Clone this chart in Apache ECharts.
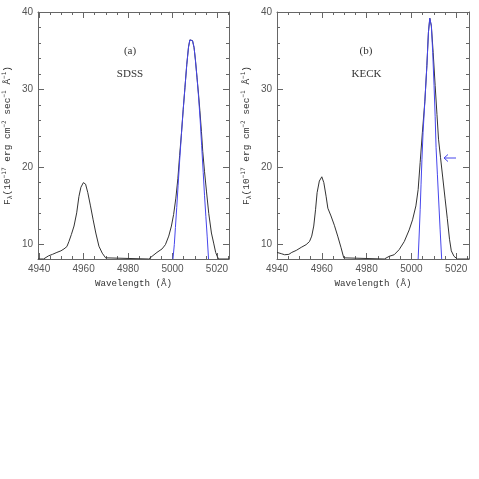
<!DOCTYPE html>
<html>
<head>
<meta charset="utf-8">
<script src="https://cdn.jsdelivr.net/npm/echarts@6/dist/echarts.min.js"></script>
<style>
html,body{margin:0;padding:0;background:#fff;}
#chart{width:479px;height:479px;}
</style>
</head>
<body>
<div id="chart"></div>
<script>
// ---- Data (wavelength in Å, flux in 1e-17 erg/cm2/s/Å) ----
const sdssWave = [4939.5,4942.0,4944.2,4946.0,4948.0,4949.8,4951.2,4952.5,4953.4,4954.5,4955.7,4956.9,4957.9,4958.8,4959.9,4960.9,4961.9,4963.1,4964.3,4965.5,4966.9,4968.4,4969.9,4970.6,
  4989.3,4990.8,4993.0,4995.3,4996.8,4998.3,4999.5,5000.5,5001.5,5002.4,5003.2,5004.0,5004.8,5005.6,5006.4,5007.2,5007.8,5008.3,5009.0,5009.7,5010.3,5011.0,5011.7,5012.3,5013.0,5013.6,5014.4,5015.3,5016.3,5017.5,5018.5,5019.4,5020.1,5020.7,5025.4];
const sdssFlux = [8.15,8.15,8.55,8.75,9.0,9.2,9.45,9.75,10.4,11.3,12.4,14.1,16.2,17.4,18.0,17.8,16.7,15.0,13.2,11.5,9.8,8.9,8.3,8.15,
  8.15,8.5,9.0,9.45,10.0,11.1,12.4,13.9,16.0,18.5,21.5,24.3,27.4,30.3,33.2,35.5,36.4,36.6,36.3,35.4,33.8,31.6,29.4,27.3,24.6,22.0,19.4,16.8,14.0,11.5,10.2,9.0,8.5,8.15,8.15];
const sdssFitWave = [5000.2,5000.8,5001.3,5001.9,5002.5,5003.2,5004.0,5004.8,5005.6,5006.4,5007.2,5007.8,5008.3,5009.0,5009.7,5010.3,5011.0,5011.7,5012.4,5013.1,5013.8,5014.4,5015.0,5015.6,5016.2];
const sdssFitFlux = [8.15,10.0,12.2,14.8,17.6,20.8,24.2,27.4,30.3,33.2,35.5,36.4,36.6,36.3,35.4,33.8,31.6,29.1,26.2,22.8,19.3,16.3,13.6,11.0,8.15];

const keckWave = [4940.0,4941.9,4943.4,4945.3,4946.6,4948.6,4950.8,4953.0,4954.5,4955.5,4956.4,4957.2,4957.9,4958.9,4960.0,4960.9,4961.9,4962.7,4964.1,4965.6,4967.1,4968.6,4969.8,4970.4,
  4987.9,4990.1,4992.3,4994.5,4996.8,4999.0,5000.5,5002.0,5003.0,5003.9,5004.9,5006.0,5006.9,5007.6,5008.2,5008.9,5009.7,5010.6,5011.4,5012.1,5013.0,5014.0,5015.0,5016.0,5017.0,5017.8,5019.0,5020.5,5025.7];
const keckFlux = [9.0,8.84,8.7,8.75,9.0,9.26,9.65,10.0,10.4,11.1,12.4,14.5,16.7,18.2,18.75,18.0,16.25,14.7,13.7,12.5,11.1,9.6,8.3,8.15,
  8.15,8.5,8.7,9.35,10.4,11.9,13.2,15.0,17.1,20.6,24.5,28.5,33.1,37.4,39.2,38.2,34.8,30.5,26.8,23.6,21.2,18.6,16.0,13.4,10.7,9.2,8.5,8.15,8.15];
const keckFitWave = [5003.0,5003.5,5003.9,5004.3,5004.7,5005.2,5006.0,5006.9,5007.6,5008.2,5008.9,5009.5,5010.1,5010.6,5011.0,5011.6,5012.2,5012.8,5013.5];
const keckFitFlux = [8.15,11.5,14.5,17.8,21.0,24.5,28.5,33.1,37.4,39.2,38.2,34.8,30.5,26.5,22.5,19.0,15.5,12.0,8.15];

const xMajorTicks = [4940,4960,4980,5000,5020];
const xMinorTicks = [4945,4950,4955,4965,4970,4975,4985,4990,4995,5005,5010,5015,5025];
const yMajorTicks = [10,20,30,40];
const yMinorTicks = [10,12,14,16,18,22,24,26,28,32,34,36,38];
const panelLabels = ['(a)','(b)'];
const panelNames = ['SDSS','KECK'];

const yMin = 8.15, yMax = 40;
const frame = '#666';
const labelColor = '#555';

function pairs(xs, ys){ return xs.map((x,i)=>[x, ys[i]]); }
const plain = v => String(Math.round(v));

function xAxesFor(g, min, max){
  const base = {type:'value', gridIndex:g, min:min, max:max, splitLine:{show:false}, axisLine:{onZero:false, show:false, lineStyle:{color:frame,width:1}}};
  const tick = (vals,len)=>({show:true, inside:true, length:len, customValues:vals, lineStyle:{color:frame,width:1}});
  return [
    Object.assign({}, base, {position:'bottom', axisLine:{show:true,onZero:false,lineStyle:{color:frame,width:1}},
      axisTick:tick(xMajorTicks,6),
      axisLabel:{show:true, customValues:xMajorTicks, formatter:plain, margin:5, color:labelColor, fontSize:10, fontFamily:'Liberation Sans', showMinLabel:true, showMaxLabel:true},
      name:'Wavelength (Å)', nameLocation:'middle', nameGap:19,
      nameTextStyle:{fontFamily:'Liberation Mono', fontSize:9.2, color:'#333', verticalAlign:'top'}}),
    Object.assign({}, base, {position:'bottom', axisTick:tick(xMinorTicks,3), axisLabel:{show:false}}),
    Object.assign({}, base, {position:'top', axisLine:{show:true,onZero:false,lineStyle:{color:frame,width:1}}, axisTick:tick(xMajorTicks,6), axisLabel:{show:false}}),
    Object.assign({}, base, {position:'top', axisTick:tick(xMinorTicks,3), axisLabel:{show:false}})
  ];
}
function yAxesFor(g){
  const base = {type:'value', gridIndex:g, min:yMin, max:yMax, splitLine:{show:false}, axisLine:{onZero:false, show:false, lineStyle:{color:frame,width:1}}};
  const tick = (vals,len)=>({show:true, inside:true, length:len, customValues:vals, lineStyle:{color:frame,width:1}});
  return [
    Object.assign({}, base, {position:'left', axisLine:{show:true,onZero:false,lineStyle:{color:frame,width:1}},
      axisTick:tick(yMajorTicks,6),
      axisLabel:{show:true, customValues:yMajorTicks, formatter:plain, margin:5, color:labelColor, fontSize:10, fontFamily:'Liberation Sans'},
      name:'{b|F}{sub|λ}{b|(10}{sup|−17}{b| erg cm}{sup|−2}{b| sec}{sup|−1}{b| Å}{sup|−1}{b|)}',
      nameLocation:'middle', nameGap:24,
      nameTextStyle:{color:'#333', fontFamily:'Liberation Mono', fontSize:9.5,
        rich:{
          b:{fontFamily:'Liberation Mono', fontSize:9.5, color:'#333', lineHeight:13, verticalAlign:'middle'},
          sub:{fontFamily:'Liberation Mono', fontSize:6.5, color:'#333', lineHeight:13, verticalAlign:'bottom'},
          sup:{fontFamily:'DejaVu Sans Mono', fontSize:6, color:'#333', lineHeight:13, verticalAlign:'top'}
        }}}),
    Object.assign({}, base, {position:'left', axisTick:tick(yMinorTicks,3), axisLabel:{show:false}}),
    Object.assign({}, base, {position:'right', axisLine:{show:true,onZero:false,lineStyle:{color:frame,width:1}}, axisTick:tick(yMajorTicks,6), axisLabel:{show:false}}),
    Object.assign({}, base, {position:'right', axisTick:tick(yMinorTicks,3), axisLabel:{show:false}})
  ];
}

const grids = [
  {left:37, top:12, width:192, height:247},
  {left:277, top:12, width:192, height:247}
];

const chart = echarts.init(document.getElementById('chart'), null, {renderer:'canvas'});

function lineSeries(name, data, axisIdx, color, z){
  return {name:name, type:'line', xAxisIndex:axisIdx, yAxisIndex:axisIdx, data:data,
    showSymbol:false, symbol:'none', smooth:false, z:z, animation:false,
    lineStyle:{color:color, width:1}};
}

const blue = '#4646ec';
const black = '#333';

const option = {
  animation:false,
  backgroundColor:'#fff',
  grid: grids,
  xAxis: [].concat(xAxesFor(0, 4939.5, 5025.4), xAxesFor(1, 4940, 5025.7)),
  yAxis: [].concat(yAxesFor(0), yAxesFor(1)),
  series: [
    lineSeries('SDSS spectrum', pairs(sdssWave, sdssFlux), 0, black, 2),
    lineSeries('SDSS fit', pairs(sdssFitWave, sdssFitFlux), 0, blue, 3),
    lineSeries('KECK spectrum', pairs(keckWave, keckFlux), 4, black, 2),
    lineSeries('KECK fit', pairs(keckFitWave, keckFitFlux), 4, blue, 3)
  ],
  graphic: [
    {type:'text', x:130, y:51, style:{text:panelLabels[0], textAlign:'center', textVerticalAlign:'middle', font:'11px "Liberation Serif"', fill:'#333'}},
    {type:'text', x:130, y:74.5, style:{text:panelNames[0], textAlign:'center', textVerticalAlign:'middle', font:'11px "Liberation Serif"', fill:'#333'}},
    {type:'text', x:366, y:51, style:{text:panelLabels[1], textAlign:'center', textVerticalAlign:'middle', font:'11px "Liberation Serif"', fill:'#333'}},
    {type:'text', x:366.5, y:74.5, style:{text:panelNames[1], textAlign:'center', textVerticalAlign:'middle', font:'11px "Liberation Serif"', fill:'#333'}},
    {type:'polyline', shape:{points:[[444,158],[456,158]]}, style:{stroke:blue, lineWidth:1, fill:null}},
    {type:'polyline', shape:{points:[[448,154.5],[444,158],[448,161.5]]}, style:{stroke:blue, lineWidth:1, fill:null}}
  ]
};
chart.setOption(option);
</script>
</body>
</html>
